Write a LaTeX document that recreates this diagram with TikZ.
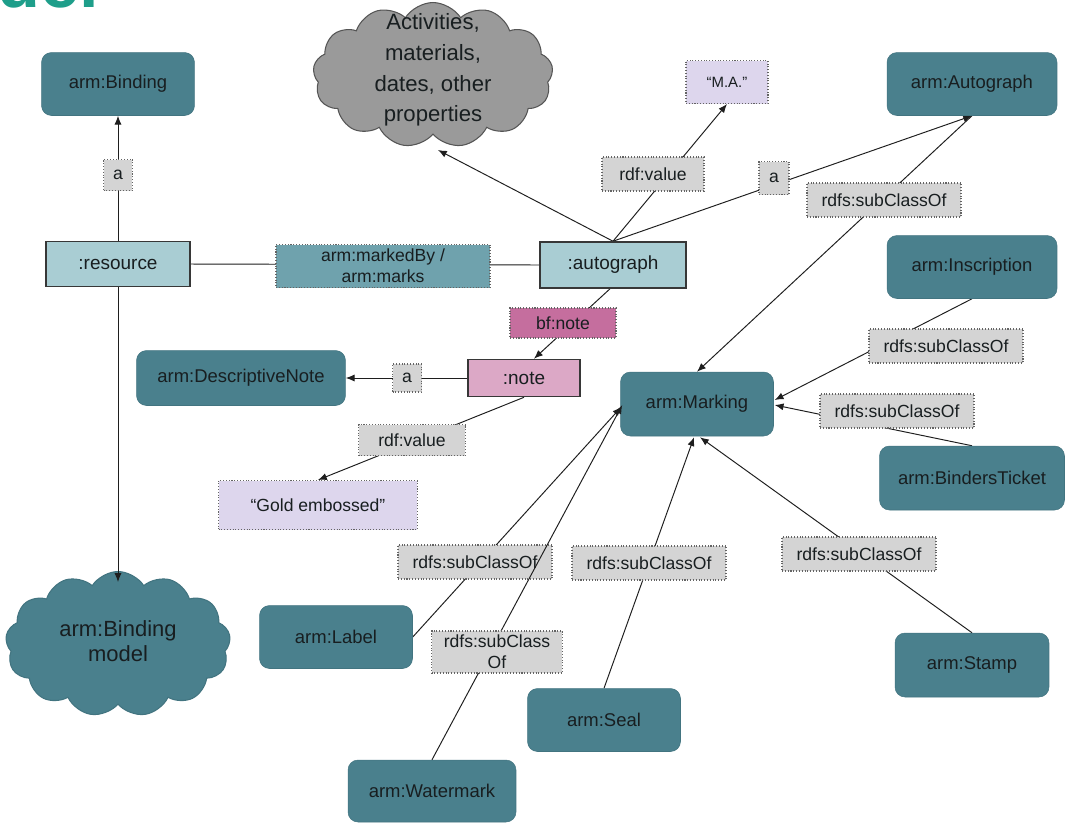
\documentclass[tikz,border=0pt]{standalone}
\usepackage{fontspec}
\setmainfont{Liberation Sans}
\usetikzlibrary{shapes.symbols,arrows.meta,calc}
\pgfdeclarelayer{bg}
\pgfdeclarelayer{paper}
\pgfsetlayers{paper,bg,main}
\definecolor{tealbox}{RGB}{74,128,141}
\definecolor{tealedge}{RGB}{66,116,128}
\definecolor{lightbox}{RGB}{169,205,211}
\definecolor{boxline}{RGB}{55,55,55}
\definecolor{boxtext}{RGB}{24,30,32}
\definecolor{lblgray}{RGB}{212,212,212}
\definecolor{lbldraw}{RGB}{100,100,100}
\definecolor{markfill}{RGB}{111,162,173}
\definecolor{lavender}{RGB}{221,214,237}
\definecolor{bfpink}{RGB}{197,110,158}
\definecolor{notepink}{RGB}{220,168,198}
\definecolor{cloudgray}{RGB}{154,154,154}
\definecolor{cloudline}{RGB}{85,85,85}
\definecolor{linecol}{RGB}{30,30,30}
\definecolor{headteal}{RGB}{30,158,138}
\begin{document}
\begin{tikzpicture}[x=0.02cm,y=-0.02cm,
  tbox/.style={rectangle,rounded corners=0.2cm,fill=tealbox,draw=tealedge,line width=0.3pt,
    text=boxtext,font=\fontsize{10.5}{12.6}\selectfont,inner sep=0pt,align=center},
  lbox/.style={rectangle,fill=lightbox,draw=boxline,line width=0.9pt,
    font=\fontsize{10.8}{13}\selectfont,inner sep=0pt,text=boxtext},
  plbl/.style={rectangle,fill=lblgray,draw=lbldraw,densely dotted,line width=0.6pt,
    font=\fontsize{10}{12}\selectfont,inner sep=0pt,align=center,text=boxtext},
  conn/.style={draw=linecol,line width=0.55pt},
  arr/.style={conn,-{Latex[length=5pt,width=4pt]}},
]
\useasboundingbox (0,0) rectangle (1066,833);
\begin{pgfonlayer}{paper}
\fill[white] (0,0) rectangle (1066,833);
\end{pgfonlayer}
\begin{scope}
\clip (0,0) rectangle (1066,833);
\node[anchor=base west,inner sep=0pt,text=headteal,font=\fontsize{40}{40}\selectfont\bfseries] (head) at (-3,7) {del};
\end{scope}

% clouds
\node[cloud,cloud puffs=13,cloud puff arc=115,cloud ignores aspect,fill=cloudgray,draw=cloudline,line width=0.6pt,
  minimum width=4.8cm,minimum height=2.9cm,inner sep=0pt] (cloudA) at (433,75) {};
\node[align=center,font=\fontsize{12.6}{17.5}\selectfont,text=boxtext,inner sep=0pt] (cloudAtxt) at (433,70)
  {Activities,\\materials,\\dates, other\\properties};
\node[cloud,cloud puffs=13,cloud puff arc=115,cloud ignores aspect,fill=tealbox,draw=tealedge,line width=0.6pt,
  minimum width=4.5cm,minimum height=2.9cm,inner sep=0pt] (cloudB) at (118,644) {};
\node[align=center,font=\fontsize{12.5}{14.5}\selectfont,text=boxtext,inner sep=0pt] (cloudBtxt) at (118,641)
  {arm:Binding\\model};

% teal class boxes
\node[tbox,minimum width=3.06cm,minimum height=1.26cm] (binding) at (118,84) {arm:Binding};
\node[tbox,minimum width=3.4cm,minimum height=1.26cm] (autographC) at (972,84) {arm:Autograph};
\node[tbox,minimum width=3.4cm,minimum height=1.26cm] (inscription) at (972,267) {arm:Inscription};
\node[tbox,minimum width=4.18cm,minimum height=1.1cm] (descnote) at (241,378) {arm:DescriptiveNote};
\node[tbox,minimum width=3.06cm,minimum height=1.28cm] (marking) at (697,404) {arm:Marking};
\node[tbox,minimum width=3.7cm,minimum height=1.28cm] (binders) at (972,478) {arm:BindersTicket};
\node[tbox,minimum width=3.06cm,minimum height=1.26cm] (label) at (336,637) {arm:Label};
\node[tbox,minimum width=3.36cm,minimum height=1.24cm] (watermark) at (432,791) {arm:Watermark};
\node[tbox,minimum width=3.06cm,minimum height=1.26cm] (seal) at (604,720) {arm:Seal};
\node[tbox,minimum width=3.08cm,minimum height=1.28cm] (stamp) at (972,665) {arm:Stamp};

% instance boxes
\node[lbox,minimum width=2.88cm,minimum height=0.9cm] (resource) at (118,264) {:resource};
\node[lbox,minimum width=2.92cm,minimum height=0.92cm] (autograph) at (613,265) {:autograph};
\node[lbox,fill=notepink,minimum width=2.24cm,minimum height=0.74cm] (note) at (524,378) {:note};

% literal boxes
\node[plbl,fill=lavender,font=\fontsize{8.5}{10}\selectfont,minimum width=1.64cm,minimum height=0.86cm] (ma) at (727,82) {“M.A.”};
\node[plbl,fill=lavender,minimum width=3.98cm,minimum height=0.98cm] (gold) at (318,505) {“Gold embossed”};

% property labels
\node[plbl,minimum width=0.58cm,minimum height=0.62cm] (aB) at (118,175) {a};
\node[plbl,fill=markfill,minimum width=4.28cm,minimum height=0.86cm] (marked) at (383,266) {arm:markedBy /\\arm:marks};
\node[plbl,minimum width=2.04cm,minimum height=0.68cm] (rdfvA) at (653,174) {rdf:value};
\node[plbl,minimum width=0.6cm,minimum height=0.66cm] (aA) at (774,178) {a};
\node[plbl,minimum width=3.08cm,minimum height=0.68cm] (subA) at (884,200) {rdfs:subClassOf};
\node[plbl,fill=bfpink,minimum width=2.12cm,minimum height=0.6cm] (bfnote) at (563,323) {bf:note};
\node[plbl,minimum width=0.58cm,minimum height=0.56cm] (aN) at (407,378) {a};
\node[plbl,minimum width=2.14cm,minimum height=0.62cm] (rdfvB) at (412,440) {rdf:value};
\node[plbl,minimum width=3.08cm,minimum height=0.68cm] (subI) at (946,346) {rdfs:subClassOf};
\node[plbl,minimum width=3.08cm,minimum height=0.68cm] (subT) at (897,411) {rdfs:subClassOf};
\node[plbl,minimum width=3.08cm,minimum height=0.68cm] (subL) at (475,562) {rdfs:subClassOf};
\node[plbl,minimum width=3.08cm,minimum height=0.68cm] (subS) at (649,563) {rdfs:subClassOf};
\node[plbl,minimum width=3.08cm,minimum height=0.68cm] (subP) at (859,554) {rdfs:subClassOf};

% connectors (behind nodes)
\begin{pgfonlayer}{bg}
\draw[arr] (resource.north) -- (binding.south);
\draw[conn] (resource.east) -- (autograph.west);
\draw[arr] (autograph.north) -- ($(cloudA.center)+(5,75)$);
\draw[arr] (autograph.north) -- (ma.south);
\draw[arr] (autograph.north) -- (autographC.south);
\draw[arr] (autographC.south) -- (marking.north);
\draw[arr] ($(autograph.south)+(-3,0)$) -- ($(note.north)+(10,0)$);
\draw[arr] (note.west) -- (descnote.east);
\draw[arr] (note.south) -- (gold.north);
\draw[arr] (inscription.south) -- ($(marking.east)+(1,-4)$);
\draw[arr] (binders.north) -- ($(marking.east)+(1,1)$);
\draw[arr] (label.east) -- ($(marking.west)+(1,3)$);
\draw[arr] (seal.north) -- ($(marking.south)+(-3,1)$);
\draw[arr] (stamp.north) -- ($(marking.south)+(3,1)$);
\end{pgfonlayer}
% arrow tip drawn over the cloud
\draw[arr] (resource.south) -- ($(cloudB.center)+(0,-62)$);
% this connector crosses over the label of arm:Label
\draw[arr] (watermark.north) -- ($(marking.west)+(2,1)$);
\node[plbl,minimum width=2.62cm,minimum height=0.84cm] (subW) at (497,652) {rdfs:subClass\\Of};
\end{tikzpicture}
\end{document}
